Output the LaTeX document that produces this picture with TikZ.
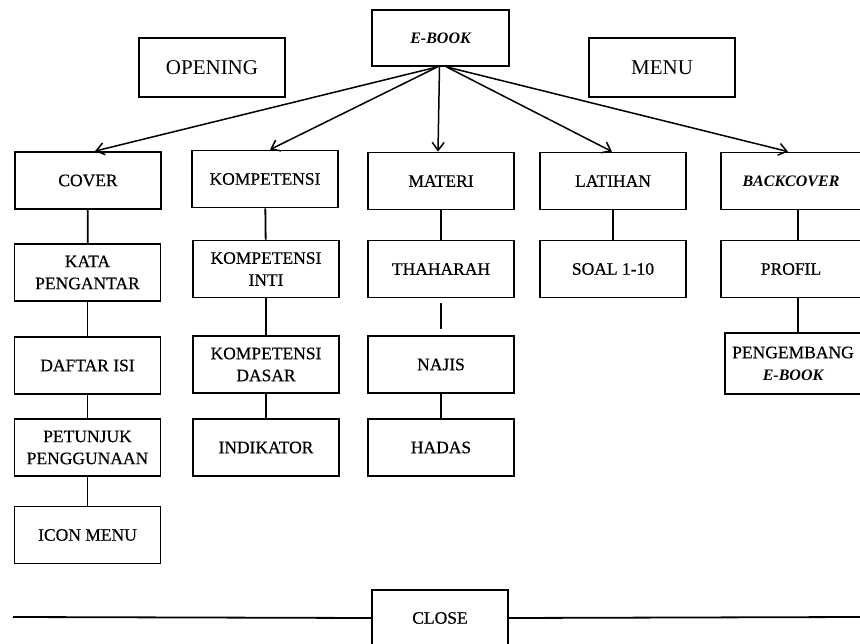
\documentclass[tikz,border=0pt]{standalone}
\usepackage{fontspec}
\setmainfont{Liberation Serif}
\newfontfamily\boxfont[FakeBold=0.5]{Liberation Serif}
\usetikzlibrary{arrows.meta}

\begin{document}
\begin{tikzpicture}[x=1pt,y=-1pt,
  box/.style={draw, line width=1.8pt, minimum width=146pt, minimum height=57pt,
    align=center, inner sep=1pt, font=\boxfont\fontsize{17.5}{22}\selectfont},
  bigbox/.style={box, font=\rmfamily\fontsize{21}{24}\selectfont, minimum height=59pt},
  slant/.style={font=\fontsize{16}{22}\selectfont\bfseries\itshape},
  link/.style={line width=1.8pt},
  fan/.style={line width=1.5pt, -{Straight Barb[length=8pt,width=12pt]}}]

\useasboundingbox (0,0) rectangle (860,644);

%top
\node[box, slant, minimum width=137pt, minimum height=56pt] (ebook) at (440.5,38) {E-BOOK};
\node[bigbox] (opening) at (212,67.5) {OPENING};
\node[bigbox] (menu) at (662,67.5) {MENU};

%menu row
\node[box] (cover) at (88,180.5) {COVER};
\node[box] (komp) at (265,179) {KOMPETENSI};
\node[box] (materi) at (441,181) {MATERI};
\node[box] (latihan) at (613,181) {LATIHAN};
\node[box, slant, minimum width=140pt] (backcover) at (791,181) {BACKCOVER};

%opening column
\node[box] (kata) at (87.5,272.5) {KATA\\PENGANTAR};
\node[box] (daftar) at (87.5,365.5) {DAFTAR ISI};
\node[box] (petunjuk) at (87.5,447.5) {PETUNJUK\\PENGGUNAAN};
\node[box] (icon) at (87.5,535) {ICON MENU};

%kompetensi column
\node[box] (inti) at (266,269) {KOMPETENSI\\INTI};
\node[box] (dasar) at (266,364.5) {KOMPETENSI\\DASAR};
\node[box] (indikator) at (266,447.5) {INDIKATOR};

%materi column
\node[box] (thaharah) at (441,269) {THAHARAH};
\node[box] (najis) at (441,364.5) {NAJIS};
\node[box] (hadas) at (441,447.5) {HADAS};

%latihan
\node[box] (soal) at (613,269) {SOAL 1-10};

%backcover column
\node[box, minimum width=140pt] (profil) at (791,269) {PROFIL};
\node[box, minimum width=136pt, minimum height=61pt] (pengembang) at (793,363.5)
  {PENGEMBANG\\{\rmfamily\bfseries\itshape\fontsize{16}{22}\selectfont E-BOOK}};

%close
\node[box, minimum width=136pt, minimum height=56pt] (close) at (440,618) {CLOSE};
\coordinate (closeL) at (13,617);
\coordinate (closeR) at (861,617);

%arrows
\draw[fan] ([xshift=-3pt]ebook.south) -- ([xshift=7pt]cover.north);
\draw[fan] ([xshift=-3pt]ebook.south) -- ([xshift=5pt]komp.north);
\draw[fan] ([xshift=-1pt]ebook.south) -- ([xshift=-3pt]materi.north);
\draw[fan] ([xshift=6pt]ebook.south) -- ([xshift=-1pt]latihan.north);
\draw[fan] ([xshift=6pt]ebook.south) -- ([xshift=-3pt]backcover.north);

%links
\draw[link] (cover) -- (kata);
\draw[link] (kata) -- (daftar);
\draw[link] (daftar) -- (petunjuk);
\draw[link] (petunjuk) -- (icon);
\draw[link] (komp) -- (inti);
\draw[link] (inti) -- (dasar);
\draw[link] (dasar) -- (indikator);
\draw[link] (materi) -- (thaharah);
\draw[link, shorten <=5pt, shorten >=6pt] (thaharah) -- (najis);
\draw[link] (najis) -- (hadas);
\draw[link] (latihan) -- (soal);
\draw[link] ([xshift=7pt]backcover.south) -- ([xshift=7pt]profil.north);
\draw[link] ([xshift=7pt]profil.south) -- ([xshift=5pt]pengembang.north);
\draw[link] (closeL) -- (close.west);
\draw[link] (close.east) -- (closeR);
\end{tikzpicture}
\end{document}
